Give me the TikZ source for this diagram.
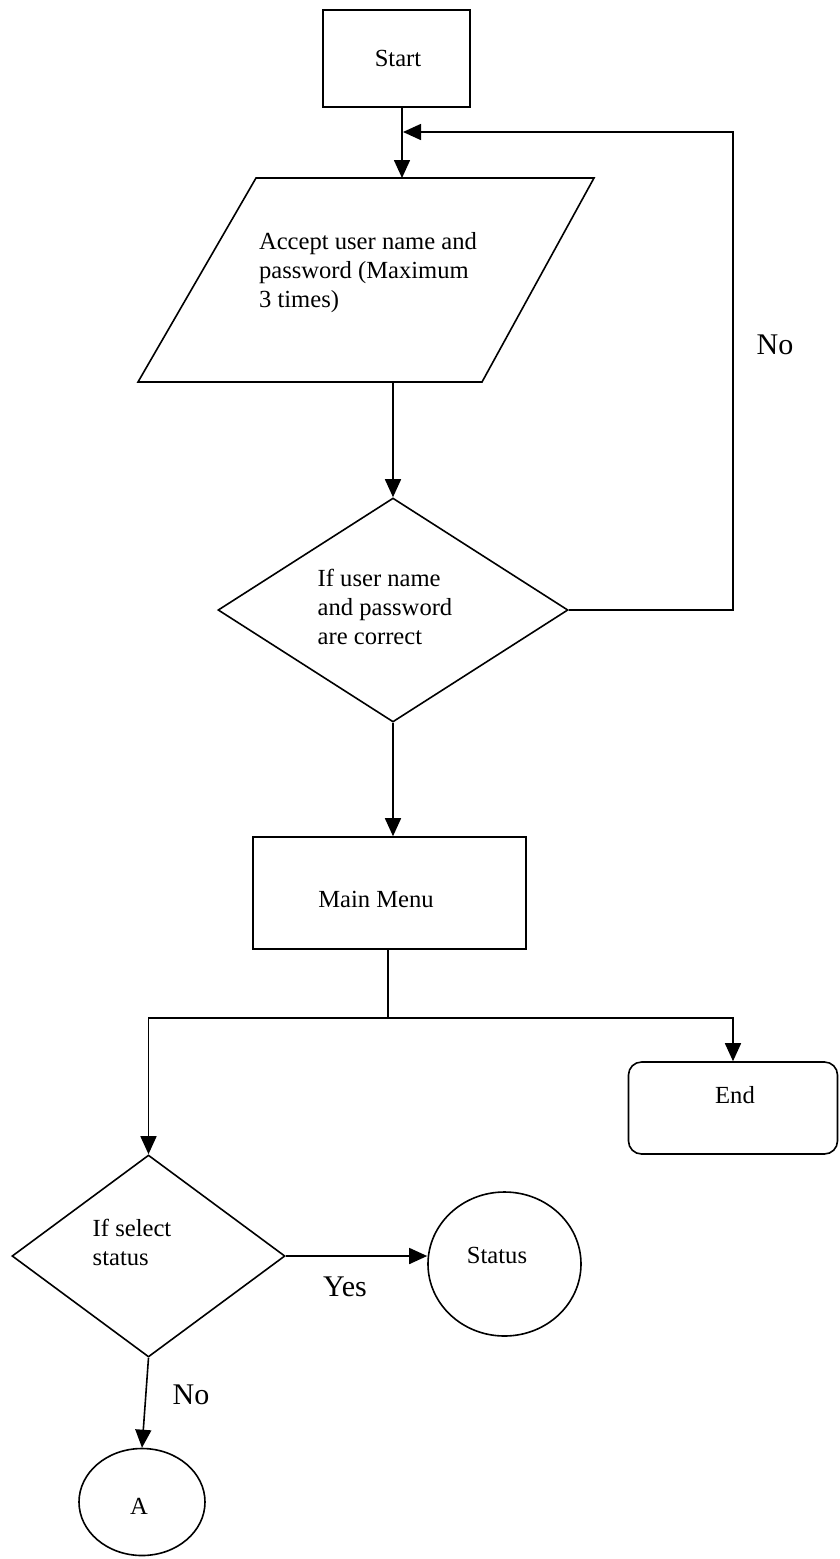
\documentclass[tikz,border=0pt]{standalone}
\usepackage{fontspec}
\setmainfont{Liberation Serif}
\usetikzlibrary{arrows.meta,shapes.geometric}

\tikzset{
  line/.style={line width=1.6pt, line join=miter},
  arrow/.style={line, -{Triangle[length=18pt,width=16pt]}},
  box/.style={line, draw, rectangle, inner sep=0pt},
  decision/.style={line, draw, diamond, inner sep=0pt},
  connector/.style={line, draw, ellipse, inner sep=0pt},
  txt/.style={font=\fontsize{24.6}{29}\selectfont, inner sep=0pt},
  lbl/.style={font=\fontsize{30}{34}\selectfont, inner sep=0pt}
}

\begin{document}
\begin{tikzpicture}[x=1pt, y=-1pt]
\useasboundingbox (0,0) rectangle (839,1559);

% Start
\node[box, minimum width=147, minimum height=97] (start) at (396.5,58.5) {};
\node[txt] (startText) at (398,58) {Start};

% Input parallelogram
\coordinate (pTL) at (256,178);
\coordinate (pTR) at (594,178);
\coordinate (pBR) at (482,382);
\coordinate (pBL) at (138,382);
\draw[line] (pTL) -- (pTR) -- (pBR) -- (pBL) -- cycle;
\node[txt, align=left] (accept) at (368,273) {Accept user name and\\password (Maximum\\3 times)};
\coordinate (pIn) at (402,178);
\coordinate (pOut) at (393,382);

% Login check
\node[decision, minimum width=350, minimum height=224] (check) at (393,610) {};
\node[txt, align=left] (checkText) at (385,607) {If user name\\and password\\are correct};

% Main menu
\node[box, minimum width=273, minimum height=112] (menu) at (389.5,893) {};
\node[txt] (menuText) at (376,899) {Main Menu};

% End
\node[box, rounded corners=13pt, minimum width=209, minimum height=92] (end) at (733,1108) {};
\node[txt] (endText) at (735,1095) {End};

% Status selection
\node[decision, minimum width=273, minimum height=202] (sel) at (148.5,1256) {};
\node[txt, align=left] (selText) at (132,1242) {If select\\status};

\node[connector, minimum width=153, minimum height=144] (status) at (504.5,1264) {};
\node[txt] (statusText) at (497,1255) {Status};

\node[connector, minimum width=126, minimum height=107] (conA) at (142,1502) {};
\node[txt] (aText) at (139,1506) {A};

% Connectors
\coordinate (merge) at (403,132);
\coordinate (loopR) at (733,132);
\coordinate (split) at (388,1018);

\draw[arrow] (start.south -| pIn) -- (pIn);
\draw[arrow] (check.east) -| (loopR) -- (merge);
\draw[arrow] (pOut) -- (check.north);
\draw[arrow] (check.south) -- (check.south |- menu.north);
\draw[line] (menu.south -| split) -- (split);
\draw[arrow] (split) -| (sel.north);
\draw[arrow] (split) -| (end.north);
\draw[arrow] (sel.east) -- (status.west |- sel.east);
\draw[arrow] (sel.south) -- (conA.north);

% Branch labels
\node[lbl] (noLoop) at (775,345) {No};
\node[lbl] (yesLbl) at (345,1287) {Yes};
\node[lbl] (noLbl) at (191,1395) {No};
\end{tikzpicture}
\end{document}
